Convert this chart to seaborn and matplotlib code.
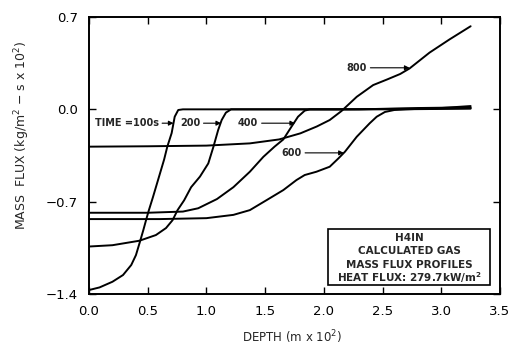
import matplotlib
matplotlib.use("Agg")
import matplotlib.pyplot as plt
from matplotlib.patches import Rectangle
import pandas as pd
import seaborn as sns

# Calculated gas mass flux profiles, depth in m x 10^2, flux in kg/m^2-s x 10^2
times = ["100", "200", "400", "600", "800"]

depth_100 = [0.00, 0.09, 0.20, 0.29, 0.36, 0.40, 0.434, 0.463, 0.49, 0.51, 0.545, 0.59, 0.64, 0.667, 0.704, 0.73, 0.76, 0.80, 1.20, 2.00, 2.60, 3.25]
flux_100 = [-1.37, -1.35, -1.307, -1.256, -1.18, -1.105, -1.004, -0.915, -0.827, -0.765, -0.665, -0.53, -0.38, -0.283, -0.18, -0.056, -0.005, 0.0, 0.0, 0.0, 0.0, 0.005]

depth_200 = [0.00, 0.20, 0.43, 0.57, 0.656, 0.712, 0.755, 0.81, 0.87, 0.945, 1.016, 1.06, 1.10, 1.13, 1.166, 1.21, 1.60, 2.20, 2.80, 3.25]
flux_200 = [-1.04, -1.03, -0.996, -0.953, -0.90, -0.84, -0.763, -0.69, -0.59, -0.51, -0.41, -0.283, -0.157, -0.081, -0.025, 0.0, 0.0, 0.0, 0.005, 0.01]

depth_400 = [0.00, 0.50, 0.80, 0.93, 1.09, 1.23, 1.37, 1.485, 1.58, 1.655, 1.724, 1.78, 1.837, 1.88, 2.30, 2.80, 3.25]
flux_400 = [-0.784, -0.784, -0.775, -0.75, -0.68, -0.59, -0.473, -0.36, -0.283, -0.228, -0.132, -0.056, -0.01, 0.0, 0.0, 0.01, 0.015]

depth_600 = [0.00, 0.60, 1.00, 1.23, 1.37, 1.513, 1.655, 1.767, 1.837, 1.937, 2.05, 2.124, 2.18, 2.28, 2.39, 2.45, 2.52, 2.60, 2.70, 3.00, 3.25]
flux_600 = [-0.832, -0.832, -0.825, -0.80, -0.764, -0.688, -0.612, -0.536, -0.498, -0.473, -0.435, -0.372, -0.321, -0.208, -0.106, -0.056, -0.02, -0.005, 0.0, 0.01, 0.025]

depth_800 = [0.00, 0.50, 1.00, 1.37, 1.62, 1.80, 1.94, 2.05, 2.15, 2.22, 2.28, 2.42, 2.54, 2.65, 2.73, 2.90, 3.07, 3.25]
flux_800 = [-0.283, -0.28, -0.275, -0.258, -0.228, -0.182, -0.13, -0.081, -0.013, 0.045, 0.095, 0.184, 0.227, 0.268, 0.31, 0.43, 0.53, 0.63]

x_ticks = [0.0, 0.5, 1.0, 1.5, 2.0, 2.5, 3.0, 3.5]
x_ticklabels = ["0.0", "0.5", "1.0", "1.5", "2.0", "2.5", "3.0", "3.5"]
y_ticks = [0.7, 0.0, -0.7, -1.4]
y_ticklabels = ["0.7", "0.0", "\u22120.7", "\u22121.4"]

# curve labels: text, text anchor (x, y), arrow tip (x, y)
label_texts = ["TIME =100s", "200", "400", "600", "800"]
label_xy = [(0.05, -0.105), (0.775, -0.105), (1.27, -0.105), (1.64, -0.33), (2.195, 0.315)]
arrow_tips = [(0.72, -0.105), (1.125, -0.105), (1.755, -0.105), (2.17, -0.33), (2.73, 0.315)]

box_lines = ["H4IN", "CALCULATED GAS", "MASS FLUX PROFILES", "HEAT FLUX: 279.7kW/m$^{\\mathbf{2}}$"]

depths = [depth_100, depth_200, depth_400, depth_600, depth_800]
fluxes = [flux_100, flux_200, flux_400, flux_600, flux_800]
df = pd.concat(
    [pd.DataFrame({"depth": d, "flux": f, "time": t}) for t, d, f in zip(times, depths, fluxes)],
    ignore_index=True,
)

sns.set_style("ticks")
plt.rcParams["font.family"] = ["DejaVu Sans"]
plt.rcParams["mathtext.default"] = "regular"

fig = plt.figure(figsize=(5.17, 3.45), dpi=100)
ax = fig.add_axes([0.1721, 0.1478, 0.7950, 0.8029])

sns.lineplot(
    data=df, x="depth", y="flux", hue="time",
    palette={t: "black" for t in times}, estimator=None, sort=False,
    legend=False, linewidth=1.4, ax=ax,
)

ax.set_xlim(0.0, 3.5)
ax.set_ylim(-1.4, 0.7)
ax.set_xticks(x_ticks)
ax.set_xticklabels(x_ticklabels)
ax.set_yticks(y_ticks)
ax.set_yticklabels(y_ticklabels)
ax.tick_params(direction="in", length=5, width=1.0, top=True, right=True,
               labelsize=9.5, colors="black", pad=8)

for s in ax.spines.values():
    s.set_linewidth(1.4)
    s.set_color("black")

ax.set_xlabel("DEPTH (m x 10$^2$)", fontsize=8.5)
ax.set_ylabel("MASS  FLUX (kg/m$^2$ \u2212 s x 10$^2$)", fontsize=9)
ax.xaxis.set_label_coords(0.494, -0.125)
ax.yaxis.set_label_coords(-0.139, 0.574)

for txt, (tx, ty), (ax_, ay) in zip(label_texts, label_xy, arrow_tips):
    ax.annotate(
        txt, xy=(ax_, ay), xytext=(tx, ty), ha="left", va="center",
        fontsize=7, fontweight="bold",
        arrowprops=dict(arrowstyle="-|>", lw=0.8, color="black",
                        mutation_scale=7, shrinkA=0, shrinkB=0),
    )

ax.add_patch(Rectangle((0.5815, 0.0325), 0.3942, 0.2022, transform=ax.transAxes,
                       fill=False, lw=1.2, edgecolor="black"))
for line, yy in zip(box_lines, [0.2022, 0.1552, 0.1047, 0.0578]):
    ax.text(0.7786, yy, line, transform=ax.transAxes, ha="center", va="center",
            fontsize=7.5, fontweight="bold")

fig.savefig("out.png", dpi=100)
